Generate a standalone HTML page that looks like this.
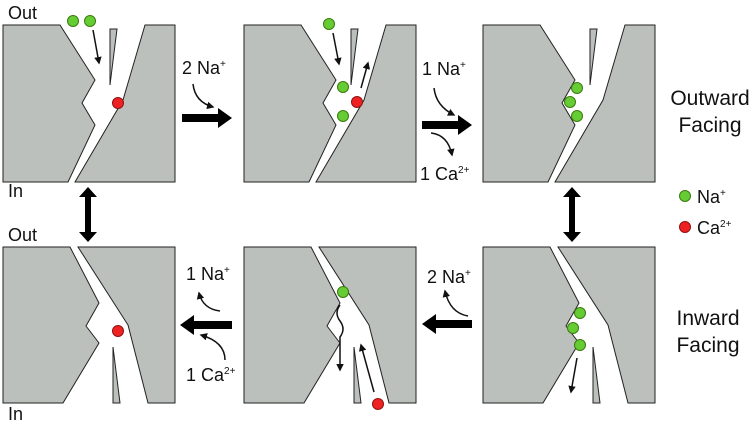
<!DOCTYPE html>
<html><head><style>
body{margin:0;background:#fff}
svg text{font-family:"Liberation Sans",sans-serif;fill:#111}
</style></head><body>
<svg width="756" height="428" viewBox="0 0 756 428" xmlns="http://www.w3.org/2000/svg">
<defs>
<marker id="ah" viewBox="0 0 10 10" refX="8" refY="5" markerWidth="5" markerHeight="5" orient="auto"><path d="M0,0L10,5L0,10z" fill="#111"/></marker>
<g id="outP" stroke="#222" stroke-width="1" fill="#bcc0bc">
<polygon points="0,0 57,0 92,55 79,78 92,100 65,157 0,157"/>
<polygon points="142,0 172,0 172,157 72,157 120,75"/>
<polygon points="107,4 114,4 107,60"/>
</g>
<g id="inP" stroke="#222" stroke-width="1" fill="#bcc0bc">
<polygon points="0,0 67,0 96,56 83,79 96,96 60,156 0,156"/>
<polygon points="75,0 172,0 172,156 145,156 125,78"/>
<polygon points="110,100 117,156 110,156"/>
</g>
<g id="vd"><polygon points="-3,9 -3,44 -9,44 0,54 9,44 3,44 3,9 9,9 0,-1 -9,9" fill="#000"/></g>
</defs>

<use href="#outP" x="3" y="25"/>
<use href="#outP" x="244" y="25"/>
<use href="#outP" x="483" y="25"/>
<use href="#inP" x="3" y="247"/>
<use href="#inP" x="244" y="247"/>
<use href="#inP" x="483" y="247"/>

<g stroke="#111" stroke-width="1.5" fill="none" marker-end="url(#ah)">
<path d="M93,30 L99,63"/>
<path d="M333,33 L339,64"/>
<path d="M361,88 L368,63"/>
<path d="M340,305 q-6,8 0,16 q6,8 0,16 L340,370"/>
<path d="M374,392 L361,345"/>
<path d="M577,358 L571,392"/>
<path d="M193,84 q2,18 20,23"/>
<path d="M434,88 q2,18 20,27"/>
<path d="M431,133 q17,2 21,22"/>
<path d="M220,311 q-17,-2 -21,-18"/>
<path d="M225,360 q0,-18 -24,-25"/>
<path d="M468,316 q-18,-3 -23,-25"/>
</g>

<g fill="#000">
<polygon points="182,114 218,114 218,108 232,118 218,128 218,122 182,122"/>
<polygon points="422,121 458,121 458,115 472,125 458,135 458,129 422,129"/>
<polygon points="180,325 194,315 194,321 232,321 232,329 194,329 194,335"/>
<polygon points="422,324 436,314 436,320 472,320 472,328 436,328 436,334"/>
</g>
<use href="#vd" x="88" y="188"/>
<use href="#vd" x="572" y="188"/>

<g stroke="#3a7a10" stroke-width="1" fill="#66cc33">
<circle cx="73" cy="21" r="5.5"/><circle cx="90" cy="21" r="5.5"/>
<circle cx="329" cy="24" r="5.5"/><circle cx="343" cy="87" r="5.5"/><circle cx="343" cy="116" r="5.5"/>
<circle cx="577" cy="88" r="5.5"/><circle cx="570" cy="102" r="5.5"/><circle cx="577" cy="116" r="5.5"/>
<circle cx="343" cy="292" r="5.5"/>
<circle cx="580" cy="313" r="5.5"/><circle cx="573" cy="328" r="5.5"/><circle cx="580" cy="345" r="5.5"/>
<circle cx="685" cy="196" r="5.5"/>
</g>
<g stroke="#901010" stroke-width="1" fill="#ee2222">
<circle cx="118" cy="103" r="5.5"/><circle cx="357" cy="102" r="5.5"/>
<circle cx="118" cy="331" r="5.5"/><circle cx="378" cy="404" r="5.5"/>
<circle cx="685" cy="227" r="5.5"/>
</g>

<g font-size="18">
<text x="8" y="19">Out</text>
<text x="8" y="197">In</text>
<text x="8" y="241">Out</text>
<text x="8" y="420">In</text>
<text x="182" y="74">2 Na<tspan font-size="10" dy="-7">+</tspan></text>
<text x="422" y="75">1 Na<tspan font-size="10" dy="-7">+</tspan></text>
<text x="420" y="180">1 Ca<tspan font-size="10" dy="-7">2+</tspan></text>
<text x="427" y="283">2 Na<tspan font-size="10" dy="-7">+</tspan></text>
<text x="186" y="280">1 Na<tspan font-size="10" dy="-7">+</tspan></text>
<text x="186" y="381">1 Ca<tspan font-size="10" dy="-7">2+</tspan></text>
<text x="697" y="203">Na<tspan font-size="10" dy="-7">+</tspan></text>
<text x="697" y="234">Ca<tspan font-size="10" dy="-7">2+</tspan></text>
</g>
<g font-size="21" text-anchor="middle">
<text x="710" y="105">Outward</text>
<text x="710" y="132">Facing</text>
<text x="708" y="325">Inward</text>
<text x="708" y="352">Facing</text>
</g>
</svg>
</body></html>
